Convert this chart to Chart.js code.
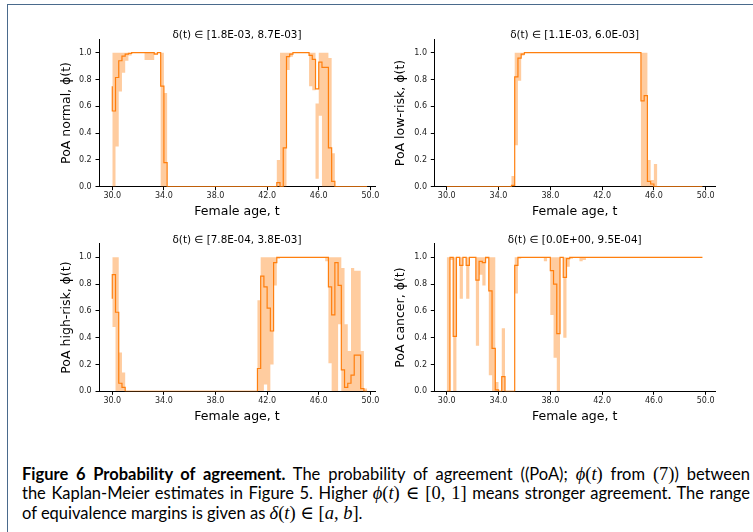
<!DOCTYPE html>
<html>
<head>
<meta charset="utf-8">
<script src="https://cdn.jsdelivr.net/npm/chart.js@4.4.1/dist/chart.umd.min.js"></script>
<style>
html,body{margin:0;padding:0;background:#fff;}
body{width:753px;height:532px;overflow:hidden;position:relative;}
.frame{position:absolute;left:7px;top:4px;width:800px;height:600px;border-top:1.5px solid #4a6a8c;border-left:1.5px solid #4a6a8c;}
canvas{position:absolute;}
.cap{position:absolute;left:22px;width:728px;font-family:"Lato",sans-serif;font-size:16.5px;color:#000;line-height:19.4px;}
.cap div{text-align:justify;text-align-last:justify;white-space:nowrap;}
.cap div.last{text-align:left;text-align-last:left;}
.m{font-family:"Liberation Serif","DejaVu Serif",serif;font-size:1.12em;line-height:1;}
.m i{font-style:italic;}
b{font-weight:700;}
</style>
</head>
<body>
<div class="frame"></div>
<div id="charts"></div>
<div class="cap" style="top:465px;">
<div><b>Figure 6 Probability of agreement.</b> The probability of agreement ((PoA); <span class="m"><i>ϕ</i>(<i>t</i>)</span> from <span class="m">(7)</span>) between</div>
<div>the Kaplan-Meier estimates in Figure 5. Higher <span class="m"><i>ϕ</i>(<i>t</i>) ∈ [0, 1]</span> means stronger agreement. The range</div>
<div class="last">of equivalence margins is given as <span class="m"><i>δ</i>(<i>t</i>) ∈ [<i>a</i>, <i>b</i>]</span>.</div>
</div>
<script>
// ---------- data ----------
const ages = [
 30.00,30.25,30.50,30.75,31.00,31.25,31.50,31.75,32.00,32.25,
 32.50,32.75,33.00,33.25,33.50,33.75,34.00,34.25,34.50,34.75,
 35.00,35.25,35.50,35.75,36.00,36.25,36.50,36.75,37.00,37.25,
 37.50,37.75,38.00,38.25,38.50,38.75,39.00,39.25,39.50,39.75,
 40.00,40.25,40.50,40.75,41.00,41.25,41.50,41.75,42.00,42.25,
 42.50,42.75,43.00,43.25,43.50,43.75,44.00,44.25,44.50,44.75,
 45.00,45.25,45.50,45.75,46.00,46.25,46.50,46.75,47.00,47.25,
 47.50,47.75,48.00,48.25,48.50,48.75,49.00,49.25,49.50,49.75];

// PoA normal
const normalPoA = [
 0.75,0.565,0.815,0.94,0.975,0.99,0.995,1,1,1,
 1,1,1,1,0.99,1,0.75,0.18,0,0,
 0,0,0,0,0,0,0,0,0,0,
 0,0,0,0,0,0,0,0,0,0,
 0,0,0,0,0,0,0,0,0,0,
 0,0,0.03,0,0.29,0.97,0.99,1,1,1,
 1,1,0.98,0.95,0.73,0.93,0.89,0.89,0.29,0.04,
 0,0,0,0,0,0,0,0,0,0];
const normalLower = [
 0,0,0.30,0.71,0.85,0.94,0.98,1,1,1,
 1,0.945,0.945,0.945,0.99,1,0,0,0,0,
 0,0,0,0,0,0,0,0,0,0,
 0,0,0,0,0,0,0,0,0,0,
 0,0,0,0,0,0,0,0,0,0,
 0,0,0,0,0,0.87,0.97,1,1,1,
 1,1,0.75,0.72,0.06,0.53,0,0,0,0,
 0,0,0,0,0,0,0,0,0,0];
const normalUpper = [
 1,1,1,1,1,1,1,1,1,1,
 1,1,1,1,1,1,1,0.70,0,0,
 0,0,0,0,0,0,0,0,0,0,
 0,0,0,0,0,0,0,0,0,0,
 0,0,0,0,0,0,0,0,0,0,
 0,0,0.2,1,1,1,1,1,1,1,
 1,1,1,1,0.62,1,1,1,0.96,0.25,
 0,0,0,0,0,0,0,0,0,0];

// PoA low-risk
const lowRiskPoA = [
 0,0,0,0,0,0,0,0,0,0,
 0,0,0,0,0,0,0,0,0,0,
 0,0.01,0.82,0.96,0.99,1,1,1,1,1,
 1,1,1,1,1,1,1,1,1,1,
 1,1,1,1,1,1,1,1,1,1,
 1,1,1,1,1,1,1,1,1,1,
 1,0.64,0.68,0.04,0.02,0,0,0,0,0,
 0,0,0,0,0,0,0,0,0,0];
const lowRiskLower = [
 0,0,0,0,0,0,0,0,0,0,
 0,0,0,0,0,0,0,0,0,0,
 0,0,0.31,0.79,0.98,1,1,1,1,1,
 1,1,1,1,1,1,1,1,1,1,
 1,1,1,1,1,1,1,1,1,1,
 1,1,1,1,1,1,1,1,1,1,
 1,0,0,0,0,0,0,0,0,0,
 0,0,0,0,0,0,0,0,0,0];
const lowRiskUpper = [
 0,0,0,0,0,0,0,0,0,0,
 0,0,0,0,0,0,0,0,0,0,
 0,0.08,1,1,1,1,1,1,1,1,
 1,1,1,1,1,1,1,1,1,1,
 1,1,1,1,1,1,1,1,1,1,
 1,1,1,1,1,1,1,1,1,1,
 1,1,1,0.2,0.05,0.17,0,0,0,0,
 0,0,0,0,0,0,0,0,0,0];

// PoA high-risk
const highRiskPoA = [
 0.69,0.87,0.59,0.06,0.03,0,0,0,0,0,
 0,0,0,0,0,0,0,0,0,0,
 0,0,0,0,0,0,0,0,0,0,
 0,0,0,0,0,0,0,0,0,0,
 0,0,0,0,0,0,0.17,0.86,0.78,0.62,
 0.45,0.96,1,1,1,1,1,1,1,1,
 1,1,1,1,1,1,1,1,0.78,0.57,
 0.96,0.79,0.16,0.03,0.06,0.12,0.27,0.27,0.02,0];
const highRiskLower = [
 0.17,0.48,0,0,0,0,0,0,0,0,
 0,0,0,0,0,0,0,0,0,0,
 0,0,0,0,0,0,0,0,0,0,
 0,0,0,0,0,0,0,0,0,0,
 0,0,0,0,0,0,0,0,0.05,0,
 0.2,0.79,0.99,1,1,1,1,1,1,1,
 1,1,1,1,1,1,1,0.97,0.21,0,
 0,0.5,0,0,0,0,0,0,0,0];
const highRiskUpper = [
 1,1,1,0.29,0.14,0,0,0,0,0,
 0,0,0,0,0,0,0,0,0,0,
 0,0,0,0,0,0,0,0,0,0,
 0,0,0,0,0,0,0,0,0,0,
 0,0,0,0,0,0,0.68,1,1,1,
 1,1,1,1,1,1,1,1,1,1,
 1,1,1,1,1,1,1,1,1,1,
 1,1,0.92,0.5,0.3,0.92,0.9,0.9,0.3,0.02];

// PoA cancer
const cancerPoA = [
 0,0,1,0.41,1,0.94,1,0.94,1,1,
 0.83,0.97,0.96,1,0.75,0.32,0.01,0,0.11,0,
 0,0,0.94,1,1,1,1,1,1,1,
 1,1,1,0.90,0.80,0.43,1,0.85,0.99,1,
 1,1,1,1,1,1,1,1,1,1,
 1,1,1,1,1,1,1,1,1,1,
 1,1,1,1,1,1,1,1,1,1,
 1,1,1,1,1,1,1,1,1,1];
const cancerLower = [
 0,0,0.98,0,1,0.69,1,0.69,1,1,
 0.34,0.87,0.79,0.99,0.12,0,0,0,0,0,
 0,0,0.73,0.99,1,1,1,1,1,1,
 1,0.97,1,0.57,0.25,0,1,0.40,0.93,0.99,
 1,1,0.97,0.98,1,1,1,1,1,1,
 1,1,1,1,1,1,1,1,1,1,
 1,1,1,1,1,1,1,1,1,1,
 1,1,1,1,1,1,1,1,1,1];
const cancerUpper = [
 1,1,1,1,1,1,1,1,1,1,
 1,1,1,1,1,1,0.07,0,0.47,0,
 0,0,1,1,1,1,1,1,1,1,
 1,1,1,1,1,1,1,1,1,1,
 1,1,1,1,1,1,1,1,1,1,
 1,1,1,1,1,1,1,1,1,1,
 1,1,1,1,1,1,1,1,1,1,
 1,1,1,1,1,1,1,1,1,1];

const yTickValues = [0, 0.2, 0.4, 0.6, 0.8, 1.0];
const xTickValues = [30, 34, 38, 42, 46, 50];
const panelTitles = ['δ(t) ∈ [1.8E-03, 8.7E-03]', 'δ(t) ∈ [1.1E-03, 6.0E-03]', 'δ(t) ∈ [7.8E-04, 3.8E-03]', 'δ(t) ∈ [0.0E+00, 9.5E-04]'];
const yAxisLabels = ['PoA normal, ϕ(t)', 'PoA low-risk, ϕ(t)', 'PoA high-risk, ϕ(t)', 'PoA cancer, ϕ(t)'];
const xAxisLabel = 'Female age, t';
const xMins = [28.97, 29.04, 28.97, 29.04];
const xMaxs = [50.36, 50.72, 50.36, 50.72];
const yMin = 0, yMax = 1.1;

// ---------- layout (page pixels) ----------
const geo = [
 {L:99,    R:375, T:39.3,  B:186.7, Ty:35.7,  Xty:211.7, Ycx:66.7},
 {L:434.3, R:715, T:39.3,  B:186.7, Ty:35.7,  Xty:211.7, Ycx:401},
 {L:99,    R:375, T:243.9, B:391.3, Ty:240.7, Xty:416.7, Ycx:66.7},
 {L:434.3, R:715, T:243.9, B:391.3, Ty:240.7, Xty:416.7, Ycx:401}
];
const series = [
 [normalPoA, normalLower, normalUpper],
 [lowRiskPoA, lowRiskLower, lowRiskUpper],
 [highRiskPoA, highRiskLower, highRiskUpper],
 [cancerPoA, cancerLower, cancerUpper]
];

const LINE = '#ff7f0e';
const BAND = 'rgba(255,127,14,0.4)';
const FONT = 'DejaVu Sans';
const TITLE_SIZE = 10.4, TITLE_LH = 0.7;
const LABEL_SIZE = 12.5, LABEL_LH = 1.2;

function pts(arr){ return ages.map((a,i)=>({x:a, y:arr[i]})); }

geo.forEach((g, k) => {
  const cx = Math.floor(g.L) - 50;
  const cy = Math.floor(g.T) - 22;
  const cw = Math.ceil(g.R) + 12 - cx;
  const ch = Math.ceil(g.B) + 38 - cy;
  const yW = g.L - cx;
  const padR = cx + cw - g.R;
  const xH = cy + ch - g.B;
  const tLH = TITLE_SIZE * TITLE_LH;
  const tTop = g.Ty - cy - tLH / 2;
  const tBot = (g.T - cy) - tTop - tLH;
  const lLH = LABEL_SIZE * LABEL_LH;
  const xTitleBot = (cy + ch) - g.Xty - lLH / 2;
  const yTitleTop = g.Ycx - cx - lLH / 2;

  const c = document.createElement('canvas');
  c.width = cw; c.height = ch;
  c.style.left = cx + 'px'; c.style.top = cy + 'px';
  c.style.width = cw + 'px'; c.style.height = ch + 'px';
  document.getElementById('charts').appendChild(c);

  const [poa, lo, hi] = series[k];
  new Chart(c.getContext('2d'), {
    type: 'line',
    data: {
      datasets: [
        {data: pts(poa), borderColor: LINE, borderWidth: 1.2, stepped: 'after', fill: false, pointRadius: 0, order: 0},
        {data: pts(hi), borderWidth: 0, borderColor: 'rgba(0,0,0,0)', backgroundColor: BAND, stepped: 'after', fill: '+1', pointRadius: 0, order: 1},
        {data: pts(lo), borderWidth: 0, borderColor: 'rgba(0,0,0,0)', stepped: 'after', fill: false, pointRadius: 0, order: 2}
      ]
    },
    options: {
      responsive: false,
      devicePixelRatio: 1,
      animation: false,
      events: [],
      layout: {padding: {left: 0, right: padR, top: 0, bottom: 0}},
      plugins: {
        legend: {display: false},
        tooltip: {enabled: false},
        title: {display: true, text: panelTitles[k], fullSize: false, color: '#000',
          font: {family: FONT, size: TITLE_SIZE, lineHeight: TITLE_LH, weight: 'normal'},
          padding: {top: tTop, bottom: tBot}}
      },
      scales: {
        x: {
          type: 'linear', min: xMins[k], max: xMaxs[k], z: 1,
          afterBuildTicks: s => { s.ticks = xTickValues.map(v => ({value: v})); },
          afterFit: s => { s.height = xH; s.paddingLeft = 0; s.paddingRight = 0; },
          grid: {display: true, drawOnChartArea: false, drawTicks: true, tickLength: 3.5, tickColor: '#000', tickWidth: 1},
          border: {display: true, color: '#000', width: 1},
          ticks: {font: {family: FONT, size: 8}, color: '#222', padding: 1, maxRotation: 0, autoSkip: false,
            callback: v => Number(v).toFixed(1)},
          title: {display: true, text: xAxisLabel, color: '#000', font: {family: FONT, size: LABEL_SIZE, lineHeight: LABEL_LH},
            padding: {top: 0, bottom: xTitleBot}}
        },
        y: {
          type: 'linear', min: yMin, max: yMax,
          afterBuildTicks: s => { s.ticks = yTickValues.map(v => ({value: v})); },
          afterFit: s => { s.width = yW; s.paddingTop = 0; s.paddingBottom = 0; },
          grid: {display: true, drawOnChartArea: false, drawTicks: true, tickLength: 3.5, tickColor: '#000', tickWidth: 1},
          border: {display: true, color: '#000', width: 1},
          ticks: {font: {family: FONT, size: 8}, color: '#222', padding: 3.8,
            callback: v => Number(v).toFixed(1)},
          title: {display: true, text: yAxisLabels[k], color: '#000', font: {family: FONT, size: LABEL_SIZE, lineHeight: LABEL_LH},
            padding: {top: yTitleTop, bottom: 0}}
        }
      }
    }
  });
});
</script>
</body>
</html>
